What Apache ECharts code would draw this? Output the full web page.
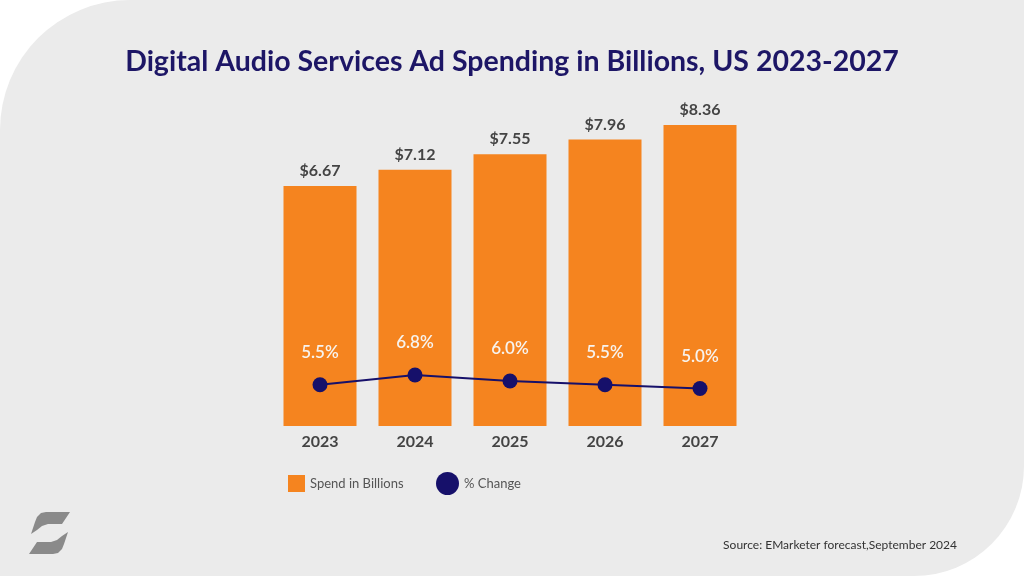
<!DOCTYPE html>
<html>
<head>
<meta charset="utf-8">
<script src="https://cdn.jsdelivr.net/npm/echarts@6/dist/echarts.min.js"></script>
<style>
html,body{margin:0;padding:0;background:#ffffff;}
#c{width:1024px;height:576px;}
</style>
</head>
<body>
<div id="c"></div>
<script>
const categories = ['2023', '2024', '2025', '2026', '2027'];
const spend = [6.67, 7.12, 7.55, 7.96, 8.36];
const pctChange = [5.5, 6.8, 6.0, 5.5, 5.0];
const seriesNames = ['Spend in Billions', '% Change'];

const chart = echarts.init(document.getElementById('c'), null, {renderer: 'canvas'});
const font = 'Lato, "Noto Sans", sans-serif';

const logoTop = [[70,512],[46,512],[41,513],[37,517],[35,522],[33,528],[31,534],[37,530],[42,526],[48,524],[62,524]];
const logoBottom = logoTop.map(p => [99 - p[0], 1066 - p[1]]);

chart.setOption({
  backgroundColor: '#ffffff',
  animation: false,
  graphic: [
    {type: 'rect', z: -10, shape: {x: 0, y: 0, width: 1024, height: 576, r: [130, 0, 110, 0]}, style: {fill: '#ebebeb'}},
    {type: 'polygon', z: 5, shape: {points: logoTop}, style: {fill: '#8a8a8a'}},
    {type: 'polygon', z: 5, shape: {points: logoBottom}, style: {fill: '#8a8a8a'}},
    {type: 'text', z: 5, right: 67, top: 539, style: {text: 'Source: EMarketer forecast,September 2024', fill: '#333333', font: '12px ' + font}}
  ],
  title: {
    text: 'Digital Audio Services Ad Spending in Billions, US 2023-2027',
    left: 'center', top: 42,
    textStyle: {color: '#1d1666', fontFamily: font, fontSize: 28.5, fontWeight: 'bold'}
  },
  legend: [
    {data: [seriesNames[0]], left: 283, top: 470, icon: 'rect', itemWidth: 17, itemHeight: 17,
     textStyle: {color: '#555555', fontFamily: font, fontSize: 13}},
    {data: [seriesNames[1]], left: 431, top: 467, icon: 'circle', itemWidth: 23, itemHeight: 23,
     textStyle: {color: '#555555', fontFamily: font, fontSize: 13}}
  ],
  grid: {left: 272.5, width: 475, top: 66, bottom: 150, containLabel: false},
  xAxis: {
    type: 'category', data: categories,
    axisLine: {show: false}, axisTick: {show: false},
    axisLabel: {color: '#444444', fontFamily: font, fontSize: 16, fontWeight: 'bold', margin: 8}
  },
  yAxis: [
    {type: 'value', min: 0, max: 10, show: false, splitLine: {show: false}},
    {type: 'value', min: 0, max: 48, show: false, splitLine: {show: false}}
  ],
  series: [
    {
      name: seriesNames[0], type: 'bar', data: spend, barWidth: 73, yAxisIndex: 0,
      itemStyle: {color: '#f5841f'},
      label: {show: true, position: 'top', distance: 7, formatter: p => '$' + p.value.toFixed(2),
        color: '#444444', fontFamily: font, fontSize: 16, fontWeight: 'bold'}
    },
    {
      name: seriesNames[1], type: 'line', data: pctChange, yAxisIndex: 1, z: 3,
      symbol: 'circle', symbolSize: 15,
      lineStyle: {color: '#16106a', width: 2},
      itemStyle: {color: '#16106a'},
      label: {show: true, position: 'top', distance: 16, formatter: p => p.value.toFixed(1) + '%',
        color: '#f7f3ee', fontFamily: font, fontSize: 17, fontWeight: 600}
    }
  ]
});
</script>
</body>
</html>
